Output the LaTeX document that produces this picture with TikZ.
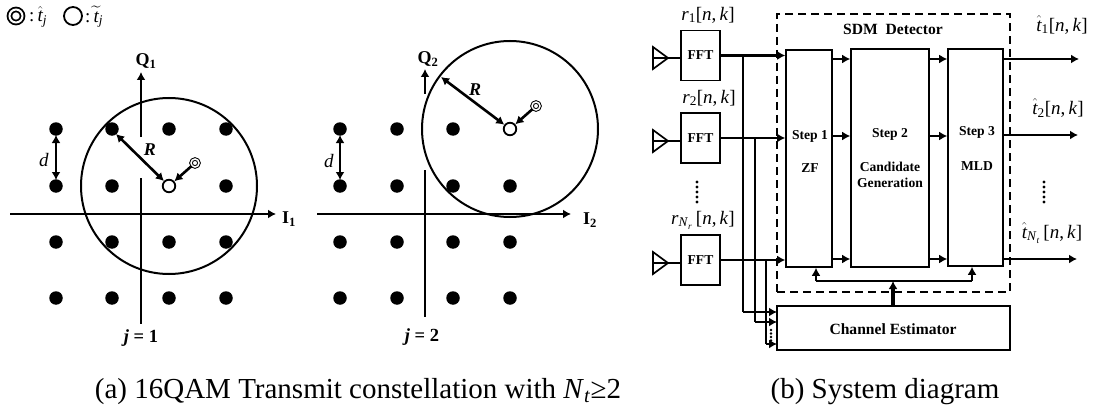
\documentclass[tikz,border=0pt]{standalone}
\usepackage{amsmath}
\usepackage{fontspec}
\setmainfont{Liberation Serif}
\usetikzlibrary{arrows.meta}
\newcommand{\that}[1]{$\hat{\text{\itshape t}}$\textsubscript{#1}}
\newcommand{\nk}{[\textit{n},\,\textit{k}]}
\tikzset{
  dotpt/.style={circle, fill=black, inner sep=0pt, minimum size=13.5pt},
  openpt/.style={circle, draw, line width=1.8pt, fill=white, inner sep=0pt, minimum size=12.5pt},
  estpt/.style={circle, double, draw, line width=1pt, double distance=1.5pt, fill=white, inner sep=0pt, minimum size=8pt},
  axisline/.style={line width=2pt},
  axisarrow/.style={line width=2.6pt, -{Latex[length=8pt,width=9pt]}},
  bothways/.style={line width=2.6pt, {Latex[length=8pt,width=9pt]}-{Latex[length=8pt,width=9pt]}},
  boldlbl/.style={font=\fontsize{13.6}{16}\selectfont\bfseries, inner sep=0pt},
  widelbl/.style={font=\fontsize{15.6}{18}\selectfont\bfseries, inner sep=0pt},
  mathlbl/.style={font=\fontsize{19}{21}\selectfont, inner sep=0pt},
  axislbl/.style={font=\fontsize{18}{20}\selectfont\bfseries, inner sep=0pt},
  rlbl/.style={font=\fontsize{18}{20}\selectfont\bfseries\itshape, inner sep=0pt},
  jlbl/.style={font=\fontsize{18.5}{20}\selectfont\bfseries, inner sep=0pt},
  caplbl/.style={font=\fontsize{29}{31}\selectfont, inner sep=0pt},
  blockbox/.style={draw, line width=1.6pt, fill=white, inner sep=0pt},
  wire/.style={line width=1.7pt},
  sigarrow/.style={line width=2.5pt, -{Latex[length=8pt,width=9pt]}},
  antennatri/.style={line width=1.7pt},
}
\begin{document}
\begin{tikzpicture}[x=1pt, y=-1pt]
  \useasboundingbox (0,0) rectangle (1101,412);

  % legend
  \node[circle, double, draw, line width=1.8pt, double distance=2pt, inner sep=0pt, minimum size=13pt] (legest) at (16,16) {};
  \node[mathlbl, anchor=west] (legesttxt) at (29,17) {:\,\that{\textit{j}}};
  \node[circle, draw, line width=1.8pt, inner sep=0pt, minimum size=18pt] (legcand) at (73,16) {};
  \node[mathlbl, anchor=west] (legcandtxt) at (85,17) {:\,$\widetilde{\text{\itshape t}}$\textsubscript{\textit{j}}};

  % constellation j=1
  \draw[line width=2pt] (169,186) circle (88pt);
  \foreach \x in {56,112,169,226} \foreach \y in {129,186,242,298}
    \node[dotpt] at (\x,\y) {};
  \coordinate (qoneTop) at (141,72);
  \coordinate (qoneA) at (141,137);
  \coordinate (qoneB) at (141,178);
  \coordinate (qoneEnd) at (141,324);
  \coordinate (ioneA) at (10,214);
  \coordinate (ioneEnd) at (276,214);
  \draw[axisarrow] (qoneA) -- (qoneTop);
  \draw[axisline] (qoneB) -- (qoneEnd);
  \draw[axisarrow] (ioneA) -- (ioneEnd);
  \node[openpt] (candone) at (169,186) {};
  \node[estpt] (estone) at (195,163) {};
  \coordinate (rone) at (116,134);
  \coordinate (dtopone) at (56,135);
  \coordinate (dbotone) at (56,180);
  \draw[bothways] (rone) -- (candone);
  \draw[axisarrow] (estone) -- (candone);
  \draw[bothways] (dtopone) -- (dbotone);
  \node[rlbl] (rlblone) at (150,150) {R};
  \node[mathlbl] (dlblone) at (44,160) {\textit{d}};
  \node[axislbl] (qlblone) at (146,61) {Q\textsubscript{1}};
  \node[axislbl] (ilblone) at (289,219) {I\textsubscript{1}};
  \node[jlbl] (jone) at (141,338) {\textit{j} = 1};

  % constellation j=2
  \draw[line width=2pt] (510,129) circle (88pt);
  \foreach \x in {340,397,453,510} \foreach \y in {129,186,242,298}
    \node[dotpt] at (\x,\y) {};
  \coordinate (qtwoTop) at (425,69);
  \coordinate (qtwoA) at (425,94);
  \coordinate (qtwoB) at (425,170);
  \coordinate (qtwoEnd) at (425,317);
  \coordinate (itwoA) at (317,214);
  \coordinate (itwoEnd) at (571,214);
  \draw[axisarrow] (qtwoA) -- (qtwoTop);
  \draw[axisline] (qtwoB) -- (qtwoEnd);
  \draw[axisarrow] (itwoA) -- (itwoEnd);
  \node[openpt] (candtwo) at (510,129) {};
  \node[estpt] (esttwo) at (536,106) {};
  \coordinate (rtwo) at (441,77);
  \coordinate (dtoptwo) at (340,135);
  \coordinate (dbottwo) at (340,180);
  \draw[bothways] (rtwo) -- (candtwo);
  \draw[axisarrow] (esttwo) -- (candtwo);
  \draw[bothways] (dtoptwo) -- (dbottwo);
  \node[rlbl] (rlbltwo) at (475,90) {R};
  \node[mathlbl] (dlbltwo) at (329,161) {\textit{d}};
  \node[axislbl] (qlbltwo) at (428,59) {Q\textsubscript{2}};
  \node[axislbl] (ilbltwo) at (590,220) {I\textsubscript{2}};
  \node[jlbl] (jtwo) at (422,337) {\textit{j} = 2};

  % receiver blocks
  \node[blockbox, minimum width=39pt, minimum height=50pt] (fftA) at (700.5,55.5) {};
  \node[blockbox, minimum width=39pt, minimum height=50pt] (fftB) at (700.5,138) {};
  \node[blockbox, minimum width=39pt, minimum height=50pt] (fftC) at (700.5,260) {};
  \node[boldlbl] (fftAtxt) at (700.5,55.5) {FFT};
  \node[boldlbl] (fftBtxt) at (700.5,138) {FFT};
  \node[boldlbl] (fftCtxt) at (700.5,260) {FFT};
  \node[mathlbl] (rA) at (708,15) {\textit{r}\textsubscript{1}\nk};
  \node[mathlbl] (rB) at (709,98) {\textit{r}\textsubscript{2}\nk};
  \node[mathlbl] (rC) at (703,220) {\textit{r}\textsubscript{\textit{N}\textsubscript{\textit{r}}}\,\nk};
  \foreach \y in {182,187,192,197,202} \fill (697,\y) circle (1.7pt);

  % antennas
  \foreach \y/\n in {58/A,141/B,263/C} {
    \draw[antennatri] (653,\y-11) -- (668,\y) -- (653,\y+11) -- cycle;
    \coordinate (ant\n) at (653,\y);
  }
  \draw[wire] (antA) -- (antA -| fftA.west);
  \draw[wire] (antB) -- (antB -| fftB.west);
  \draw[wire] (antC) -- (antC -| fftC.west);

  % detector
  \node[draw, line width=2.5pt, dash pattern=on 8pt off 5pt, minimum width=233pt, minimum height=278pt, inner sep=0pt] (detector) at (893.5,153) {};
  \node[widelbl] (dettxt) at (893,29) {SDM\ \ Detector};
  \node[blockbox, minimum width=46pt, minimum height=217pt] (stepA) at (809,158.5) {};
  \node[blockbox, minimum width=78pt, minimum height=218pt] (stepB) at (890,158) {};
  \node[blockbox, minimum width=55pt, minimum height=217pt] (stepC) at (975.5,157.5) {};
  \node[boldlbl] (stepAa) at (810,136) {Step 1};
  \node[boldlbl] (stepAb) at (810,168) {ZF};
  \node[boldlbl] (stepBa) at (890,134) {Step 2};
  \node[boldlbl, align=center] (stepBb) at (890,175) {Candidate\\Generation};
  \node[boldlbl] (stepCa) at (977,132) {Step 3};
  \node[boldlbl] (stepCb) at (977,166) {MLD};
  \node[blockbox, minimum width=233pt, minimum height=44pt] (chest) at (893.5,328) {};
  \node[widelbl] (chesttxt) at (893,329) {Channel Estimator};

  % signal lines
  \draw[sigarrow] (fftA.east) -- (fftA.east -| stepA.west);
  \draw[sigarrow] (fftB.east) -- (fftB.east -| stepA.west);
  \draw[sigarrow] (fftC.east) -- (fftC.east -| stepA.west);
  \foreach \y in {59,136,259} {
    \draw[sigarrow] (stepA.east |- 0,\y) -- (stepB.west |- 0,\y);
    \draw[sigarrow] (stepB.east |- 0,\y) -- (stepC.west |- 0,\y);
  }
  \coordinate (outA) at (1079,59);
  \coordinate (outB) at (1078,135);
  \coordinate (outC) at (1077,259);
  \draw[sigarrow] (stepC.east |- outA) -- (outA);
  \draw[sigarrow] (stepC.east |- outB) -- (outB);
  \draw[sigarrow] (stepC.east |- outC) -- (outC);
  \node[mathlbl] (tA) at (1062,25) {\that{1}\nk};
  \node[mathlbl] (tB) at (1058,108) {\that{2}\nk};
  \node[mathlbl] (tC) at (1052,233) {\that{\textit{N}\textsubscript{\textit{t}}}\,\nk};
  \foreach \y in {182,187,192,197,202} \fill (1044,\y) circle (1.7pt);

  % estimator inputs
  \coordinate (busA) at (743,55.5);
  \coordinate (busB) at (755,138);
  \coordinate (busC) at (766,260);
  \coordinate (inA) at (777,312);
  \coordinate (inB) at (777,322);
  \coordinate (inC) at (777,344);
  \draw[wire] (busA) -- (busA |- inA);
  \draw[wire] (busB) -- (busB |- inB);
  \draw[wire] (busC) -- (busC |- inC);
  \draw[sigarrow] (busA |- inA) -- (inA);
  \draw[sigarrow] (busB |- inB) -- (inB);
  \draw[sigarrow] (busC |- inC) -- (inC);
  \foreach \y in {330,333.5,337,340.5} \fill (771,\y) circle (1.3pt);

  % feedback
  \coordinate (fbA) at (816,281);
  \coordinate (fbB) at (893,281);
  \coordinate (fbC) at (972,281);
  \draw[line width=2.2pt] (fbA) -- (fbC);
  \draw[sigarrow] (fbA) -- (fbA |- stepA.south);
  \draw[sigarrow] (fbC) -- (fbC |- stepC.south);
  \draw[sigarrow, line width=3.2pt] (chest.north -| fbB) -- (fbB);

  % captions
  \node[caplbl] (capa) at (358,392) {(a) 16QAM Transmit constellation with \textit{N}\textsubscript{\textit{t}}≥2};
  \node[caplbl] (capb) at (885,392) {(b) System diagram};
\end{tikzpicture}
\end{document}
